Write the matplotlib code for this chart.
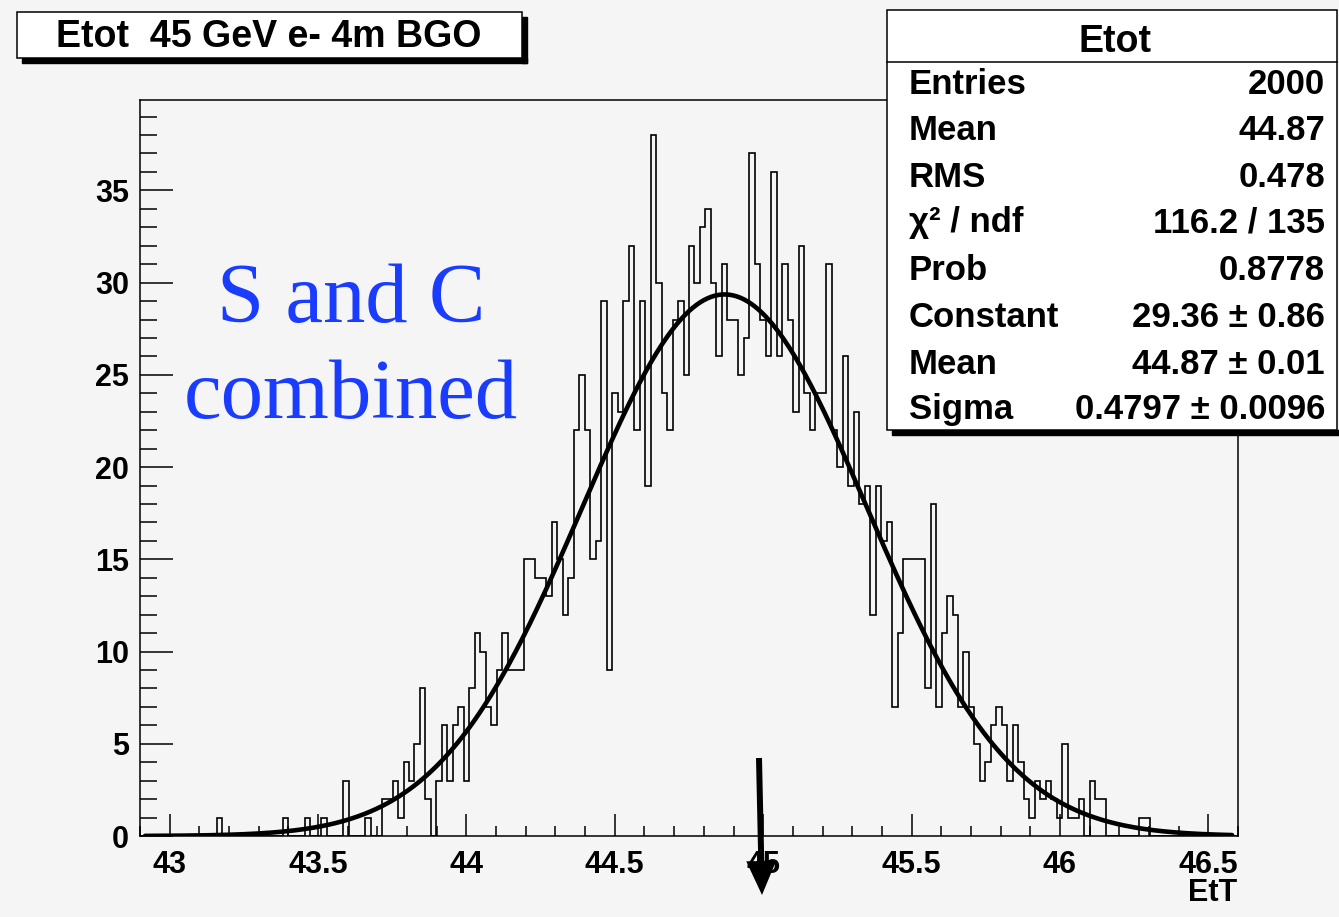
import numpy as np
import matplotlib
matplotlib.use('Agg')
import matplotlib.pyplot as plt
from matplotlib.patches import Rectangle, FancyArrow
from matplotlib.transforms import IdentityTransform

plt.rcParams['font.family'] = ['Liberation Sans', 'DejaVu Sans']
plt.rcParams['font.weight'] = 'bold'

# histogram Etot: 200 bins from 42.9 to 46.6
x_lo, x_hi, n_bins = 42.9, 46.6, 200
counts = [0] * 14 + [1] + [0] * 11 + [1, 0, 0, 0, 1, 0, 0, 1, 0, 0, 0,
    3, 0, 0, 0, 1, 0, 0, 2, 2, 3, 1, 4, 3, 5, 8, 2, 0, 3,            # 37-54
    6, 3, 6, 7, 3, 8, 11, 10, 7, 6, 9, 11, 9, 9, 9,                   # 55-69
    15, 15, 14, 14, 13, 17, 15, 12, 14, 22, 25, 22, 15, 16, 29, 9,    # 70-85
    24, 23, 29, 32, 22, 29, 19, 38, 30, 24, 22, 28, 29, 25,           # 86-99
    32, 30, 33, 34, 30, 26, 31, 28, 28, 25, 27, 37, 31, 28, 26, 36,   # 100-115
    26, 31, 28, 23, 32, 24, 22, 24, 24, 31, 22, 20, 26, 19, 23, 18,   # 116-131
    19, 12, 19, 16, 17, 7, 11, 15, 15, 15, 15, 8, 18, 7, 11, 13,      # 132-147
    12, 7, 10, 7, 5, 3, 4, 6, 7, 6, 3, 6, 4, 2, 1, 3,                 # 148-163
    2, 3, 2, 1, 5, 1, 1, 2, 0, 3, 2, 2,                               # 164-175
    0, 0, 0, 0, 0, 0, 1, 1] + [0] * 16                                # 176-199

# gaussian fit result
fit_const, fit_mean, fit_sigma = 29.36, 44.87, 0.4797

title = 'Etot  45 GeV e- 4m BGO'
stats_title = 'Etot'
stats_names = ['Entries', 'Mean', 'RMS', 'χ² / ndf', 'Prob', 'Constant', 'Mean', 'Sigma']
stats_values = ['2000', '44.87', '0.478', '116.2 / 135', '0.8778',
                '29.36 ± 0.86', '44.87 ± 0.01', '0.4797 ± 0.0096']

W, H = 1339, 917
bg = '#f5f5f5'
fig = plt.figure(figsize=(W / 100, H / 100), dpi=100, facecolor=bg)


def fx(px):
    return px / W


def fy(py):
    return 1 - py / H


ax = fig.add_axes([fx(140), fy(836), fx(1238) - fx(140), fy(100) - fy(836)])
ax.set_facecolor(bg)

edges = np.linspace(x_lo, x_hi, n_bins + 1)
ax.stairs(counts, edges, color='black', lw=1.2)

xs = np.linspace(42.917, 46.58, 600)
ys = fit_const * np.exp(-0.5 * ((xs - fit_mean) / fit_sigma) ** 2)
ax.plot(xs, ys, color='black', lw=3.3, solid_capstyle='round')

ax.set_xlim(x_lo, x_hi)
ax.set_ylim(0, 39.9)
ax.set_xticks(np.arange(43, 46.51, 0.5))
ax.set_xticklabels(['43', '43.5', '44', '44.5', '45', '45.5', '46', '46.5'])
ax.set_xticks(np.arange(42.9, 46.61, 0.1), minor=True)
ax.set_yticks(np.arange(0, 36, 5))
ax.set_yticks(np.arange(0, 40, 1), minor=True)
ax.tick_params(axis='x', which='major', direction='in', length=16, width=1.1,
               labelsize=22, pad=10)
ax.tick_params(axis='x', which='minor', direction='in', length=7.5, width=1.1)
ax.tick_params(axis='y', which='major', direction='in', length=24, width=1.1,
               labelsize=22, pad=8)
ax.tick_params(axis='y', which='minor', direction='in', length=12, width=1.1)
for lab in ax.get_xticklabels() + ax.get_yticklabels():
    lab.set_fontweight('bold')
for sp in ax.spines.values():
    sp.set_linewidth(1.1)

fig.text(fx(1213), fy(893), 'EtT', ha='center', va='center', fontsize=22,
         fontweight='bold')

# blue label
fig.text(fx(351), fy(322), 'S and C', ha='center', va='baseline', fontsize=61,
         family='Liberation Serif', fontweight='normal', color='#1a3cff')
fig.text(fx(351), fy(418), 'combined', ha='center', va='baseline', fontsize=61,
         family='Liberation Serif', fontweight='normal', color='#1a3cff')

# title box with shadow
fig.patches.append(Rectangle((fx(22), fy(63)), fx(505), fy(58) - fy(63),
                             transform=fig.transFigure, color='black', zorder=1))
fig.patches.append(Rectangle((fx(522), fy(63)), fx(5), fy(17) - fy(63),
                             transform=fig.transFigure, color='black', zorder=1))
fig.patches.append(Rectangle((fx(17), fy(58)), fx(505), fy(12) - fy(58),
                             transform=fig.transFigure, facecolor='white',
                             edgecolor='black', lw=1.1, zorder=2))
fig.text(fx(269), fy(37), title, ha='center', va='center', fontsize=27,
         fontweight='bold', zorder=3)

# stats box with shadow
fig.patches.append(Rectangle((fx(892), fy(435)), fx(447), fy(430) - fy(435),
                             transform=fig.transFigure, color='black', zorder=4))
fig.patches.append(Rectangle((fx(887), fy(430)), fx(450), fy(10) - fy(430),
                             transform=fig.transFigure, facecolor='white',
                             edgecolor='black', lw=1.1, zorder=5))
fig.add_artist(plt.Line2D([fx(887), fx(1337)], [fy(62), fy(62)],
                          transform=fig.transFigure, color='black', lw=1.1,
                          zorder=6))
fig.text(fx(1115), fy(52), stats_title, ha='center', va='baseline', fontsize=27,
         fontweight='bold', zorder=6)
row_base = [94, 140, 187, 232, 280, 327, 374, 419]
for name, val, yb in zip(stats_names, stats_values, row_base):
    fig.text(fx(909), fy(yb), name, ha='left', va='baseline', fontsize=25,
             fontweight='bold', zorder=6)
    fig.text(fx(1325), fy(yb), val, ha='right', va='baseline', fontsize=25,
             fontweight='bold', zorder=6)

# arrow marking 45 GeV (pixel coordinates, origin bottom-left)
arrow = FancyArrow(759, H - 758, 3, -137, width=6, head_width=30,
                   head_length=34, length_includes_head=True,
                   color='black', lw=0, transform=IdentityTransform(), zorder=10)
fig.patches.append(arrow)

fig.savefig('out.png', dpi=100, facecolor=bg)
